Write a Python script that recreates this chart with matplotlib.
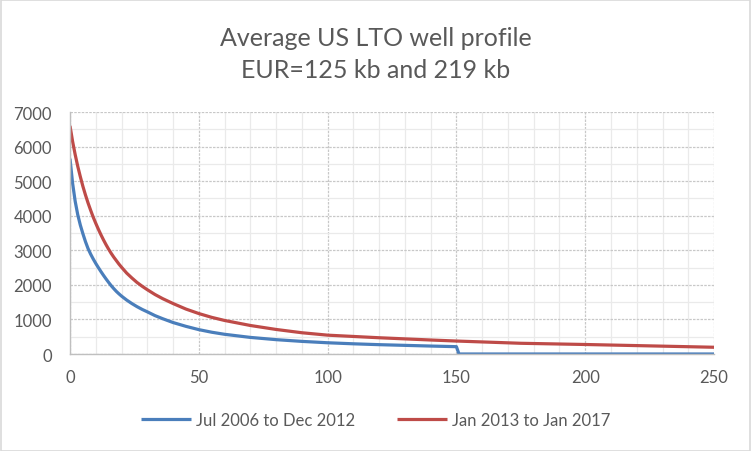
import matplotlib.pyplot as plt
from matplotlib.ticker import MultipleLocator
from matplotlib.patches import Rectangle

plt.rcParams['font.family'] = ['Lato', 'DejaVu Sans']

# Average well profile, months vs production
months_a = [0, 1, 2, 3, 4, 5, 6, 7, 8, 9, 10, 11, 12, 13, 14, 15, 16, 17, 18,
            19, 20, 22, 24, 26, 28, 30, 33, 36, 40, 45, 50, 55, 60, 70, 80,
            90, 100, 110, 120, 130, 140, 150, 151, 200, 250]
prod_a = [5650, 4940, 4420, 4030, 3730, 3480, 3250, 3050, 2890, 2750, 2620,
          2500, 2385, 2275, 2170, 2070, 1975, 1890, 1810, 1740, 1675, 1560,
          1460, 1370, 1290, 1220, 1110, 1020, 910, 800, 705, 630, 570, 480,
          415, 365, 325, 295, 270, 250, 230, 212, 0, 0, 0]

months_b = [0, 1, 2, 3, 4, 5, 6, 7, 8, 9, 10, 11, 12, 13, 14, 15, 16, 17, 18,
            19, 20, 22, 24, 26, 28, 30, 33, 36, 40, 45, 50, 55, 60, 70, 80,
            90, 100, 120, 140, 150, 175, 200, 225, 250]
prod_b = [6600, 6150, 5770, 5430, 5130, 4850, 4600, 4370, 4160, 3960, 3780,
          3610, 3450, 3300, 3160, 3030, 2910, 2800, 2700, 2600, 2510, 2340,
          2200, 2070, 1960, 1860, 1720, 1600, 1460, 1300, 1170, 1060, 970,
          825, 710, 615, 545, 470, 405, 375, 310, 275, 235, 195]

labels = ['Jul 2006 to Dec 2012', 'Jan 2013 to Jan 2017']
grey = '#595959'

fig = plt.figure(figsize=(7.52, 4.52), dpi=100)
ax = fig.add_axes([0.0931, 0.2146, 0.8564, 0.5354])

ax.plot(months_a, prod_a, color='#4A7EBB', lw=2.3, label=labels[0],
        solid_capstyle='butt', solid_joinstyle='round')
ax.plot(months_b, prod_b, color='#BE4B48', lw=2.3, label=labels[1],
        solid_capstyle='butt', solid_joinstyle='round')

ax.set_xlim(0, 250)
ax.set_ylim(0, 7000)
ax.xaxis.set_major_locator(MultipleLocator(50))
ax.xaxis.set_minor_locator(MultipleLocator(10))
ax.yaxis.set_major_locator(MultipleLocator(1000))
ax.yaxis.set_minor_locator(MultipleLocator(500))

ax.grid(which='minor', color='#EAEAEA', lw=0.9, linestyle='-')
ax.grid(which='major', color='#C8C8C8', lw=0.9, linestyle=(0, (2, 1)))
ax.set_axisbelow(True)

for side in ['top', 'right']:
    ax.spines[side].set_visible(False)
for side in ['left', 'bottom']:
    ax.spines[side].set_color('#BFBFBF')
    ax.spines[side].set_linewidth(1.0)

ax.tick_params(which='both', length=0, labelsize=12, colors=grey)
ax.tick_params(axis='y', pad=13)
ax.tick_params(axis='x', pad=11)

fig.text(0.5, 0.915, 'Average US LTO well profile', ha='center', va='center',
         fontsize=18, color=grey)
fig.text(0.5, 0.845, 'EUR=125 kb and 219 kb', ha='center', va='center',
         fontsize=18, color=grey)

fig.legend(loc='center', bbox_to_anchor=(0.5, 0.068), ncol=2, frameon=False,
           fontsize=12, labelcolor=grey, handlelength=3.0, handletextpad=0.3,
           columnspacing=2.5)

fig.patches.append(Rectangle((0.001, 0.001), 0.997, 0.997, transform=fig.transFigure,
                             fill=False, edgecolor='#D9D9D9', lw=1.2))

fig.savefig('out.png', dpi=100)
